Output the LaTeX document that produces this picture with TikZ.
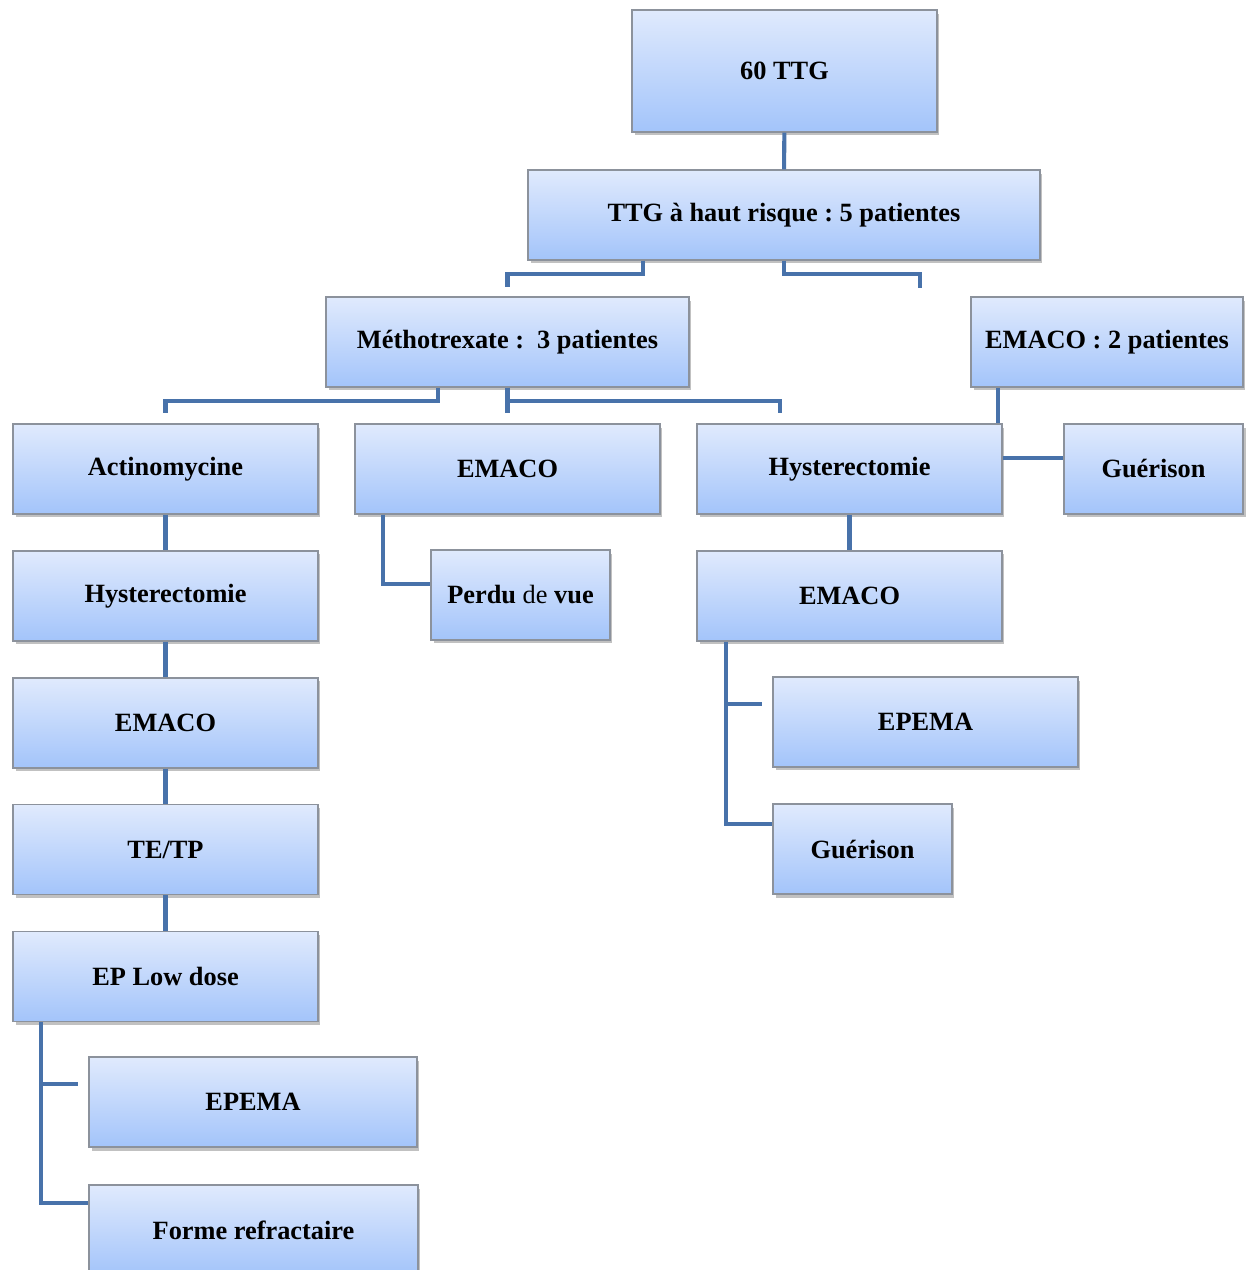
\documentclass[tikz,border=0pt]{standalone}
\usepackage{fontspec}
\setmainfont{Liberation Serif}
\usepackage{xcolor}
\usepackage{tikz}
\usetikzlibrary{positioning, shadows}
\definecolor{boxtop}{RGB}{224,234,253}
\definecolor{boxbottom}{RGB}{163,196,250}
\definecolor{boxborder}{RGB}{140,146,156}
\definecolor{linkblue}{RGB}{72,114,170}
\frenchspacing

\begin{document}
\begin{tikzpicture}[
    x=0.02cm, y=-0.02cm,
    font=\bfseries\fontsize{15}{18}\selectfont,
    node distance=0.715cm and 0.5cm,
    boxnode/.style={draw=boxborder, line width=0.7pt, top color=boxtop, bottom color=boxbottom, align=center, minimum width=6.1cm, minimum height=1.8cm, inner sep=2pt,
        drop shadow={shadow xshift=0.05cm, shadow yshift=-0.07cm, opacity=0.35, fill=black!70}},
    smallnode/.style={boxnode, minimum width=3.58cm},
    link/.style={draw=linkblue, line width=2.3pt}
]
\useasboundingbox (0,0) rectangle (1245,1270);

% top of the tree
\node[boxnode, minimum height=2.44cm] (ttg) at (784.5,71) {60 TTG};
\node[boxnode, minimum width=10.24cm] (risk) at (784,215) {TTG à haut risque : 5 patientes};
\node[boxnode, minimum width=7.26cm] (mtx) at (507.5,342) {Méthotrexate :\ \ 3 patientes};
\node[boxnode, minimum width=5.44cm] (emacoR) at (1107,342) {EMACO : 2 patientes};

% second row
\node[boxnode] (actino) at (165.5,469) {Actinomycine};
\node[boxnode] (emacoM) at (507.5,469) {EMACO};
\node[boxnode] (hystR) at (849.5,469) {Hysterectomie};
\node[smallnode] (guerR) at (1153.5,469) {Guérison};

% left column
\node[boxnode, below=of actino] (hystL) {Hysterectomie};
\node[boxnode, below=of hystL] (emacoL) {EMACO};
\node[boxnode, below=of emacoL] (tetp) {TE/TP};
\node[boxnode, below=of tetp] (eplow) {EP Low dose};
\node[boxnode, minimum width=6.56cm] (epemaL) at (253,1102) {EPEMA};
\node[boxnode, minimum width=6.58cm] (forme) at (253.5,1230) {Forme refractaire};

% middle and right
\node[smallnode] (perdu) at (520.5,595) {Perdu \textmd{de} vue};
\node[boxnode, below=of hystR] (emacoRR) {EMACO};
\node[boxnode] (epemaR) at (925.5,722) {EPEMA};
\node[smallnode] (guerRR) at (862.5,849) {Guérison};

\coordinate (bridge) at (920,288);

\draw[link] (ttg) -- (risk);
\draw[link] ([xshift=-2.82cm]risk.south) -- ++(0,13) -| ([yshift=0.18cm]mtx.north);
\draw[link] (risk.south) -- ++(0,13) -| (bridge);

\draw[link] ([xshift=-1.39cm]mtx.south) -- ++(0,13) -| ([yshift=0.2cm]actino.north);
\draw[link] (mtx.south) -- ([yshift=0.2cm]emacoM.north);
\draw[link] (mtx.south) -- ++(0,13) -| ([xshift=-1.4cm,yshift=0.2cm]hystR.north);

\draw[link] ([xshift=-2.18cm]emacoR.south) -- ([xshift=-2.18cm]emacoR.south |- hystR.north);
\draw[link] ([yshift=0.22cm]hystR.east) -- ([yshift=0.22cm]guerR.west);

\draw[link] (actino) -- (hystL);
\draw[link] (hystL) -- (emacoL);
\draw[link] (emacoL) -- (tetp);
\draw[link] (tetp) -- (eplow);

\draw[link] ([xshift=0.58cm]emacoM.south west) |- ([yshift=0.22cm]perdu.west);

\draw[link] (hystR) -- (emacoRR);
\draw[link] ([xshift=0.6cm]emacoRR.south west) |- ([yshift=0.5cm]guerRR.west);
\draw[link] ([xshift=-0.92cm,yshift=0.36cm]epemaR.west) -- ([xshift=-0.2cm,yshift=0.36cm]epemaR.west);

\draw[link] ([xshift=0.58cm]eplow.south west) |- ([yshift=0.54cm]forme.west);
\draw[link] ([xshift=-0.94cm,yshift=0.36cm]epemaL.west) -- ([xshift=-0.2cm,yshift=0.36cm]epemaL.west);

\end{tikzpicture}
\end{document}
